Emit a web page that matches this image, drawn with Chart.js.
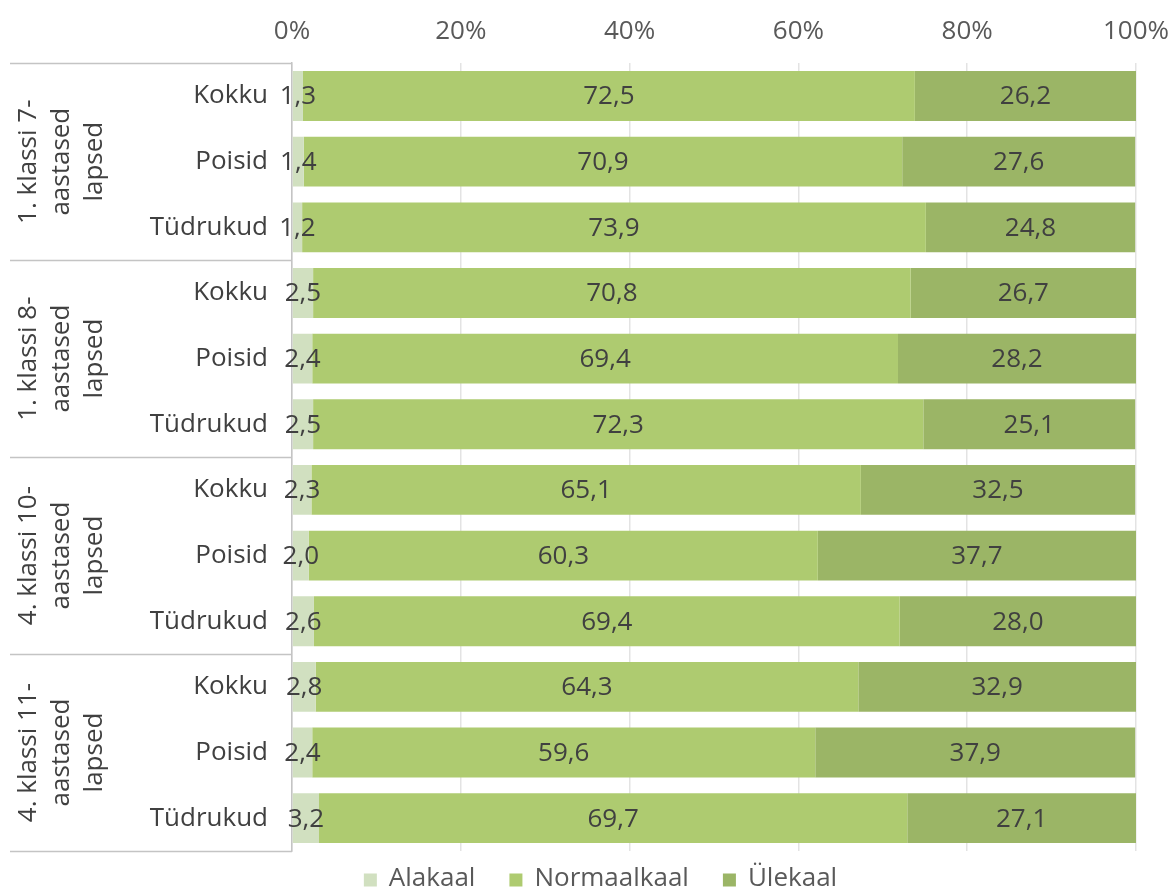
<!DOCTYPE html>
<html>
<head>
<meta charset="utf-8">
<script src="https://cdn.jsdelivr.net/npm/chart.js@4/dist/chart.umd.min.js"></script>
<style>
  html, body { margin: 0; padding: 0; background: #ffffff; }
  #wrap { width: 1169px; height: 889px; position: relative; }
</style>
</head>
<body>
<div id="wrap"><canvas id="c"></canvas></div>
<script>
// Row labels (top to bottom) and the age group each block of three rows belongs to
const rowLabels = ['Kokku', 'Poisid', 'Tüdrukud', 'Kokku', 'Poisid', 'Tüdrukud',
                   'Kokku', 'Poisid', 'Tüdrukud', 'Kokku', 'Poisid', 'Tüdrukud'];
const groupLabels = [
  ['1. klassi 7-', 'aastased', 'lapsed'],
  ['1. klassi 8-', 'aastased', 'lapsed'],
  ['4. klassi 10-', 'aastased', 'lapsed'],
  ['4. klassi 11-', 'aastased', 'lapsed']
];
const seriesNames = ['Alakaal', 'Normaalkaal', 'Ülekaal'];
const alakaal     = [1.3, 1.4, 1.2, 2.5, 2.4, 2.5, 2.3, 2.0, 2.6, 2.8, 2.4, 3.2];
const normaalkaal = [72.5, 70.9, 73.9, 70.8, 69.4, 72.3, 65.1, 60.3, 69.4, 64.3, 59.6, 69.7];
const ylekaal     = [26.2, 27.6, 24.8, 26.7, 28.2, 25.1, 32.5, 37.7, 28.0, 32.9, 37.9, 27.1];
const tickValues  = [0, 20, 40, 60, 80, 100];

const FONT = "'Open Sans', 'Noto Sans', sans-serif";
const FS = 26;
const TEXT = '#404040';
const TICK = '#595959';
const colors = ['#d1e0c0', '#aecb70', '#9bb566'];

// Numbers written with a decimal comma, centred on each segment
const valueLabels = {
  id: 'valueLabels',
  afterDatasetsDraw(chart) {
    const ctx = chart.ctx;
    ctx.save();
    ctx.font = FS + 'px ' + FONT;
    ctx.fillStyle = TEXT;
    ctx.textAlign = 'center';
    ctx.textBaseline = 'middle';
    chart.data.datasets.forEach((ds, di) => {
      const meta = chart.getDatasetMeta(di);
      meta.data.forEach((el, i) => {
        const v = ds.data[i];
        const cx = (el.x + el.base) / 2;
        ctx.fillText(v.toFixed(1).replace('.', ','), cx, el.y + 1);
      });
    });
    ctx.restore();
  }
};

// Rotated group titles with separator lines on the left side
const groupBlocks = {
  id: 'groupBlocks',
  afterDraw(chart) {
    const ctx = chart.ctx;
    const y = chart.scales.y;
    const area = chart.chartArea;
    const n = rowLabels.length;
    const per = n / groupLabels.length;
    const bounds = [];
    for (let g = 0; g <= groupLabels.length; g++) {
      if (g === 0) bounds.push(area.top);
      else if (g === groupLabels.length) bounds.push(area.bottom);
      else bounds.push((y.getPixelForValue(g * per - 1) + y.getPixelForValue(g * per)) / 2);
    }
    ctx.save();
    ctx.strokeStyle = '#c4c4c4';
    ctx.lineWidth = 1.5;
    bounds.forEach(b => {
      ctx.beginPath();
      ctx.moveTo(10, Math.round(b) + 0.5);
      ctx.lineTo(area.left, Math.round(b) + 0.5);
      ctx.stroke();
    });
    ctx.font = FS + 'px ' + FONT;
    ctx.fillStyle = TEXT;
    ctx.textAlign = 'center';
    ctx.textBaseline = 'middle';
    groupLabels.forEach((lines, g) => {
      const cy = (bounds[g] + bounds[g + 1]) / 2;
      const cx = 62;
      const lh = 33;
      ctx.save();
      ctx.translate(cx, cy);
      ctx.rotate(-Math.PI / 2);
      lines.forEach((t, k) => {
        ctx.fillText(t, 0, (k - (lines.length - 1) / 2) * lh);
      });
      ctx.restore();
    });
    ctx.restore();
  }
};

// Series key centred below the plot: small square followed by the series name
const bottomLegend = {
  id: 'bottomLegend',
  afterDraw(chart) {
    const ctx = chart.ctx;
    const box = 13, gapText = 12, gapItem = 34;
    ctx.save();
    ctx.font = FS + 'px ' + FONT;
    ctx.textBaseline = 'middle';
    ctx.textAlign = 'left';
    const items = chart.data.datasets.map(ds => ({
      label: ds.label, color: ds.backgroundColor, w: ctx.measureText(ds.label).width
    }));
    const total = items.reduce((s, it) => s + box + gapText + it.w, 0) + gapItem * (items.length - 1);
    let x = chart.width / 2 + 16 - total / 2;
    const cy = chart.chartArea.bottom + 28;
    items.forEach(it => {
      ctx.fillStyle = it.color;
      ctx.fillRect(x, cy - box / 2 + 1, box, box);
      x += box + gapText;
      ctx.fillStyle = TICK;
      ctx.fillText(it.label, x, cy);
      x += it.w + gapItem;
    });
    ctx.restore();
  }
};

new Chart(document.getElementById('c'), {
  type: 'bar',
  data: {
    labels: rowLabels,
    datasets: [
      { label: seriesNames[0], data: alakaal, backgroundColor: colors[0] },
      { label: seriesNames[1], data: normaalkaal, backgroundColor: colors[1] },
      { label: seriesNames[2], data: ylekaal, backgroundColor: colors[2] }
    ]
  },
  options: {
    indexAxis: 'y',
    responsive: true,
    maintainAspectRatio: false,
    animation: false,
    devicePixelRatio: 1,
    layout: { padding: { top: 0, right: 0, bottom: 38, left: 0 } },
    datasets: { bar: { categoryPercentage: 1.0, barPercentage: 0.76 } },
    scales: {
      x: {
        position: 'top',
        stacked: true,
        min: 0,
        max: 100,
        z: 1,
        afterBuildTicks(scale) { scale.ticks = tickValues.map(v => ({ value: v })); },
        afterFit(scale) { scale.paddingRight = 33; scale.paddingLeft = 0; },
        ticks: {
          color: TICK,
          font: { family: FONT, size: FS },
          padding: 16,
          callback: v => v + '%'
        },
        grid: { color: 'rgba(0,0,0,0.11)', lineWidth: 1.5, drawTicks: false },
        border: { display: false }
      },
      y: {
        stacked: true,
        afterFit(scale) { scale.width = 292; },
        ticks: {
          color: TEXT,
          font: { family: FONT, size: FS },
          padding: 16
        },
        grid: { display: false },
        border: { display: true, color: '#c4c4c4', width: 1.5 }
      }
    },
    plugins: {
      legend: { display: false },
      tooltip: { enabled: false }
    }
  },
  plugins: [valueLabels, groupBlocks, bottomLegend]
});
</script>
</body>
</html>
